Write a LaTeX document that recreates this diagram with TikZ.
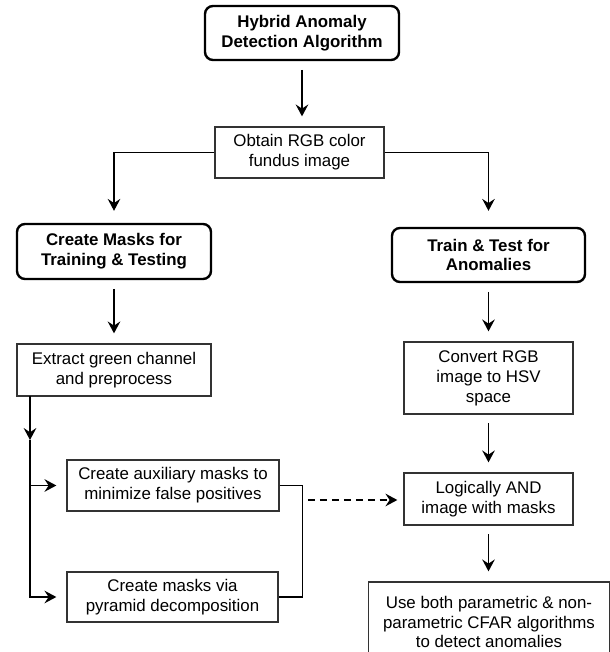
\documentclass[tikz,border=0pt]{standalone}
\usepackage{fontspec}
\setmainfont{Liberation Sans}
\usepackage{tikz}
\usetikzlibrary{arrows.meta}

\begin{document}
\begin{tikzpicture}[>={Stealth[length=8.5pt, width=9pt, inset=3pt]}, scale=1.0,
    stage/.style={draw=black, line width=1.7pt, rounded corners=0.2cm, align=center,
        font=\fontsize{12}{14}\selectfont\bfseries, inner sep=0pt},
    task/.style={draw=black!80, line width=0.9pt, align=center,
        font=\fontsize{12}{14.2}\selectfont, inner sep=0pt},
    flow/.style={->, line width=1pt, shorten <=0.22cm, shorten >=0.25cm}]
    \useasboundingbox (0,0) rectangle (15.25,16.3);
    \clip (0,0) rectangle (15.25,16.3);
    \node[stage, minimum width=4.85cm, minimum height=1.35cm] (hybrid) at (7.55,15.475) {Hybrid Anomaly\\Detection Algorithm};
    \node[task, minimum width=4.225cm, minimum height=1.275cm] (obtain) at (7.4875,12.4875) {Obtain RGB color\\fundus image};
    \node[stage, minimum width=4.85cm, minimum height=1.375cm] (masks) at (2.85,10.0125) {Create Masks for\\Training \& Testing};
    \node[stage, minimum width=4.825cm, minimum height=1.35cm] (train) at (12.2125,9.925) {Train \& Test for\\Anomalies};
    \node[task, minimum width=4.85cm, minimum height=1.3cm] (extract) at (2.85,7.05) {Extract green channel\\and preprocess};
    \node[task, minimum width=4.225cm, minimum height=1.8cm] (convert) at (12.2125,6.85) {Convert RGB\\image to HSV\\space};
    \node[task, minimum width=5.3cm, minimum height=1.275cm] (aux) at (4.325,4.1625) {Create auxiliary masks to\\minimize false positives};
    \node[task, minimum width=5.275cm, minimum height=1.25cm] (pyramid) at (4.3125,1.375) {Create masks via\\pyramid decomposition};
    \node[task, minimum width=4.225cm, minimum height=1.3cm] (logand) at (12.2125,3.825) {Logically AND\\image with masks};
    \node[task, minimum width=6.025cm, minimum height=2.0cm] (cfar) at (12.225,0.75) {Use both parametric \& non-\\parametric CFAR algorithms\\to detect anomalies};
    \coordinate (trunk) at (0.75,6.4);
    \coordinate (trunkmid) at (0.75,5.3);
    \coordinate (join) at (7.7,3.8);
    \draw[flow] (hybrid.south) -- (hybrid.south |- obtain.north);
    \draw[flow, shorten <=0pt, shorten >=0.3cm] (obtain.west) -| (masks.north);
    \draw[flow, shorten <=0pt, shorten >=0.4cm] (obtain.east) -| (train.north);
    \draw[flow] (masks) -- (extract);
    \draw[flow] (train) -- (convert);
    \draw[flow] (convert) -- (logand);
    \draw[flow] (logand.south) -- (logand.south |- cfar.north);
    \draw[->, line width=1pt] (trunk) -- (trunkmid);
    \draw[flow, shorten <=0pt] (trunkmid) |- (pyramid.west);
    \draw[flow, shorten <=0pt] (aux.west -| trunk) -- (aux.west);
    \draw[line width=1pt] (aux.east) -- ++(0.575,0) |- (pyramid.east);
    \draw[flow, dash pattern=on 5pt off 3.5pt, shorten <=0pt, shorten >=0.15cm] (join) -- (join -| logand.west);
\end{tikzpicture}
\end{document}
